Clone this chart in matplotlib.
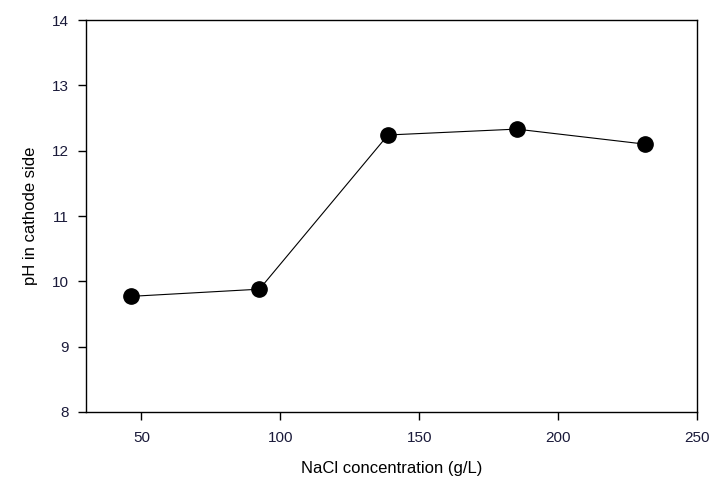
import matplotlib
matplotlib.use("Agg")
import matplotlib.pyplot as plt

# NaCl concentration vs cathode-side pH
nacl_conc = [46.25, 92.5, 138.75, 185.0, 231.25]
ph_cathode = [9.77, 9.88, 12.24, 12.33, 12.10]

x_ticks = [50, 100, 150, 200, 250]
y_ticks = [8, 9, 10, 11, 12, 13, 14]

plt.rcParams["font.family"] = ["Liberation Sans", "DejaVu Sans"]

fig = plt.figure(figsize=(7.15, 4.94), dpi=100)
ax = fig.add_axes([0.120, 0.166, 0.855, 0.7935])

ax.plot(nacl_conc, ph_cathode, color="black", linewidth=0.8,
        marker="o", markersize=11, markerfacecolor="black", markeredgecolor="black")

ax.set_xlim(30, 250)
ax.set_ylim(8, 14)
ax.set_xticks(x_ticks)
ax.set_yticks(y_ticks)
ax.tick_params(direction="out", length=6, width=1, labelsize=11, colors="black",
               labelcolor="#1a1a3a", top=False, right=False)
ax.tick_params(axis="x", pad=8)
ax.tick_params(axis="y", pad=6)
for side in ax.spines.values():
    side.set_linewidth(1)

ax.set_xlabel("NaCl concentration (g/L)", fontsize=12, labelpad=11)
ax.set_ylabel("pH in cathode side", fontsize=12, labelpad=10)

fig.savefig("out.png", dpi=100)
